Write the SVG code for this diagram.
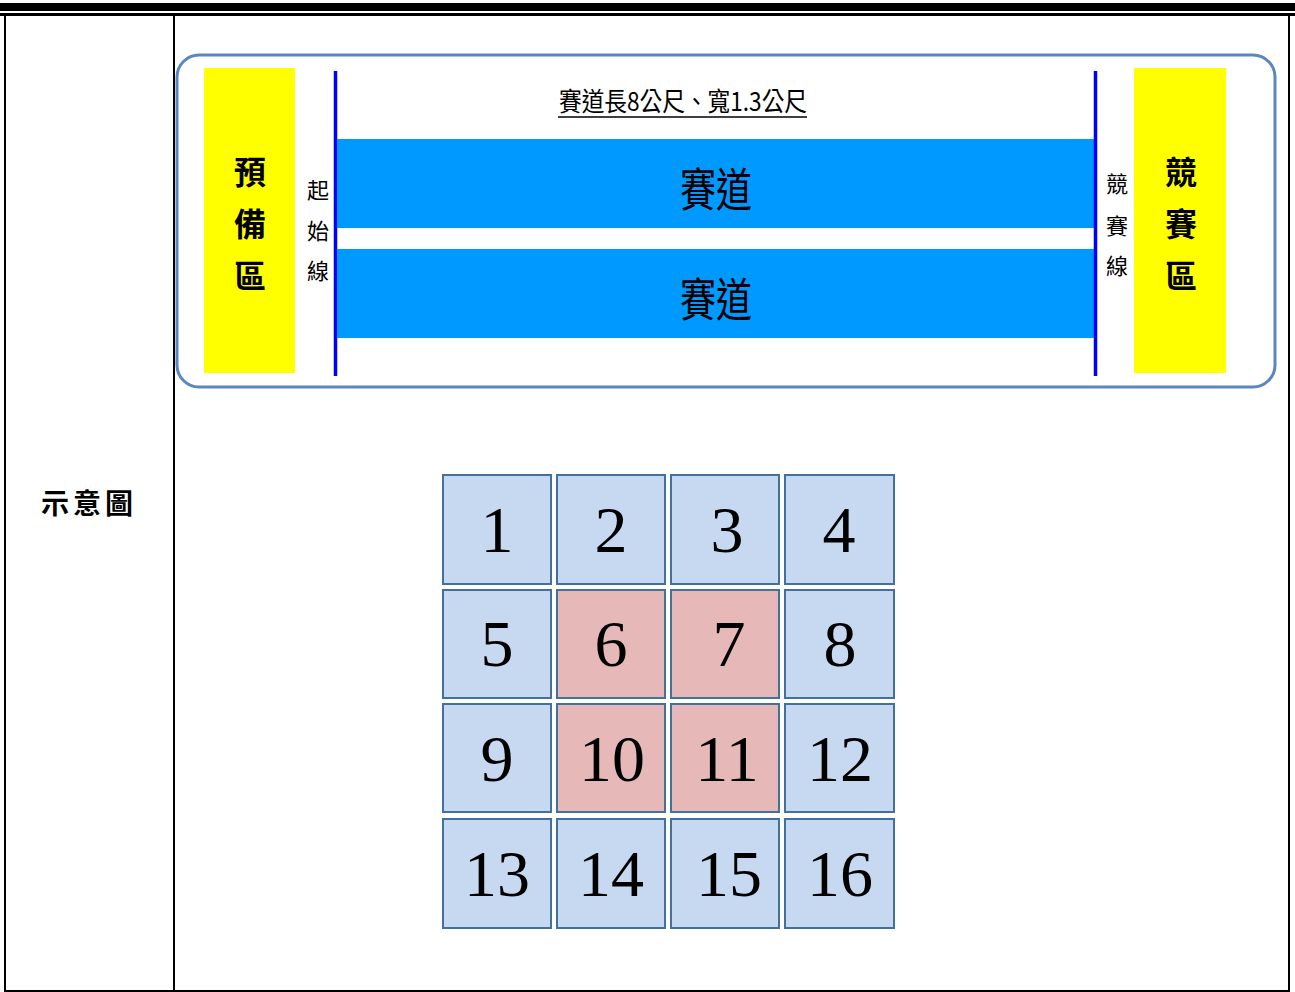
<svg xmlns="http://www.w3.org/2000/svg" width="1295" height="992" viewBox="0 0 1295 992">
<style>
.cjk{font-family:"Noto Sans CJK TC","Noto Sans CJK SC",sans-serif;fill:#000}
.num{font-family:"Liberation Serif",serif;font-size:66px;fill:#000;text-anchor:middle}
.cb{fill:#c6d9f1;stroke:#41719c;stroke-width:2}
.cp{fill:#e6b9b8;stroke:#41719c;stroke-width:2}
.yel{fill:#ffff00}
.trk{fill:#0099ff}
.bl{stroke:#0000ff;stroke-width:3.5}
</style>
<rect x="0" y="0" width="1295" height="992" fill="#fff"/>
<g id="table">
<rect x="0" y="3" width="1295" height="8" fill="#000"/>
<rect x="0" y="13" width="1295" height="3" fill="#000"/>
<line x1="5" y1="14" x2="5" y2="992" stroke="#000" stroke-width="2"/>
<line x1="174" y1="14" x2="174" y2="992" stroke="#000" stroke-width="2"/>
<line x1="1289" y1="14" x2="1289" y2="992" stroke="#000" stroke-width="2"/>
<line x1="4" y1="991" x2="1290" y2="991" stroke="#000" stroke-width="2"/>
<text class="cjk" x="89" y="514" font-size="28" font-weight="bold" text-anchor="middle" letter-spacing="4">示意圖</text>
</g>
<g id="field">
<rect x="177" y="55" width="1098" height="332" rx="22" fill="#fff" stroke="#5b87c0" stroke-width="3"/>
</g>
<g id="prep-zone">
<rect class="yel" x="204" y="68" width="91" height="305"/>
<text class="cjk" font-size="32" font-weight="bold" text-anchor="middle"><tspan x="250" y="184">預</tspan><tspan x="250" y="236">備</tspan><tspan x="250" y="288">區</tspan></text>
</g>
<g id="start-line">
<line class="bl" x1="335.5" y1="71" x2="335.5" y2="376"/>
<text class="cjk" font-size="22" text-anchor="middle"><tspan x="318" y="198">起</tspan><tspan x="318" y="239">始</tspan><tspan x="318" y="279">線</tspan></text>
</g>
<g id="track-title">
<text class="cjk" x="683" y="111" font-size="26" text-anchor="middle" textLength="248" lengthAdjust="spacingAndGlyphs">賽道長8公尺、寬1.3公尺</text>
<line x1="558" y1="117" x2="807" y2="117" stroke="#000" stroke-width="1.5"/>
</g>
<g id="track1">
<rect class="trk" x="337" y="139" width="757" height="89"/>
<text class="cjk" x="716" y="206" font-size="46" text-anchor="middle" textLength="72" lengthAdjust="spacingAndGlyphs">賽道</text>
</g>
<g id="track2">
<rect class="trk" x="337" y="249" width="757" height="89"/>
<text class="cjk" x="716" y="316" font-size="46" text-anchor="middle" textLength="72" lengthAdjust="spacingAndGlyphs">賽道</text>
</g>
<g id="finish-line">
<line class="bl" x1="1095.5" y1="71" x2="1095.5" y2="376"/>
<text class="cjk" font-size="22" text-anchor="middle"><tspan x="1117" y="192">競</tspan><tspan x="1117" y="234">賽</tspan><tspan x="1117" y="274">線</tspan></text>
</g>
<g id="race-zone">
<rect class="yel" x="1134" y="68" width="92" height="305"/>
<text class="cjk" font-size="32" font-weight="bold" text-anchor="middle"><tspan x="1181" y="184">競</tspan><tspan x="1181" y="236">賽</tspan><tspan x="1181" y="288">區</tspan></text>
</g>
<g id="grid">
<g id="c1"><rect class="cb" x="443" y="475" width="108" height="109"/><text class="num" x="497" y="552">1</text></g>
<g id="c2"><rect class="cb" x="557" y="475" width="108" height="109"/><text class="num" x="611" y="552">2</text></g>
<g id="c3"><rect class="cb" x="671" y="475" width="108" height="109"/><text class="num" x="727" y="552">3</text></g>
<g id="c4"><rect class="cb" x="785" y="475" width="109" height="109"/><text class="num" x="839" y="552">4</text></g>
<g id="c5"><rect class="cb" x="443" y="590" width="108" height="108"/><text class="num" x="497" y="666">5</text></g>
<g id="c6"><rect class="cp" x="557" y="590" width="108" height="108"/><text class="num" x="611" y="666">6</text></g>
<g id="c7"><rect class="cp" x="671" y="590" width="108" height="108"/><text class="num" x="729" y="666">7</text></g>
<g id="c8"><rect class="cb" x="785" y="590" width="109" height="108"/><text class="num" x="840" y="666">8</text></g>
<g id="c9"><rect class="cb" x="443" y="704" width="108" height="108"/><text class="num" x="497" y="781">9</text></g>
<g id="c10"><rect class="cp" x="557" y="704" width="108" height="108"/><text class="num" x="612" y="781">10</text></g>
<g id="c11"><rect class="cp" x="671" y="704" width="108" height="108"/><text class="num" x="727" y="781">11</text></g>
<g id="c12"><rect class="cb" x="785" y="704" width="109" height="108"/><text class="num" x="840" y="781">12</text></g>
<g id="c13"><rect class="cb" x="443" y="819" width="108" height="109"/><text class="num" x="497" y="896">13</text></g>
<g id="c14"><rect class="cb" x="557" y="819" width="108" height="109"/><text class="num" x="611" y="896">14</text></g>
<g id="c15"><rect class="cb" x="671" y="819" width="108" height="109"/><text class="num" x="729" y="896">15</text></g>
<g id="c16"><rect class="cb" x="785" y="819" width="109" height="109"/><text class="num" x="840" y="896">16</text></g>
</g>
</svg>
